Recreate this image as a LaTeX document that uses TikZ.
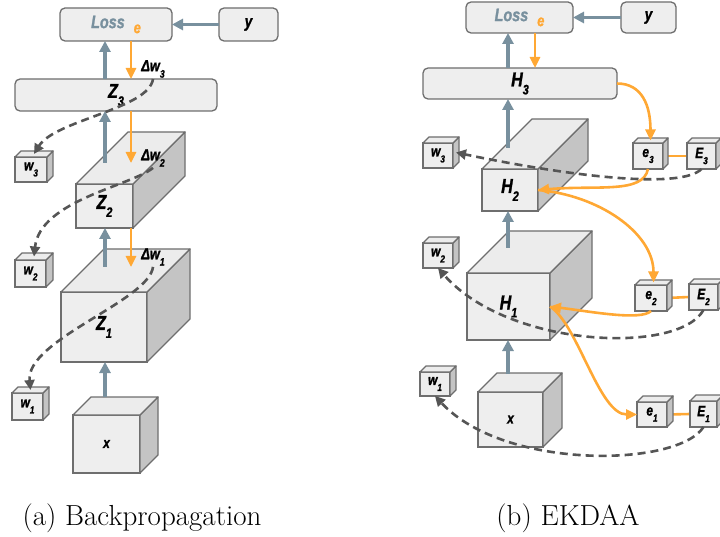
\documentclass[tikz,border=0pt]{standalone}
\usepackage{fontspec}
\newfontfamily\lblfont[FakeStretch=0.8,BoldItalicFeatures={FakeBold=1.3}]{Liberation Sans}
\usetikzlibrary{positioning,calc,arrows.meta,backgrounds}

\definecolor{fwdc}{RGB}{120,144,158}
\definecolor{errc}{RGB}{255,168,52}
\definecolor{dashc}{RGB}{85,85,85}
\definecolor{boxline}{RGB}{110,110,110}
\definecolor{boxfill}{RGB}{238,238,238}
\definecolor{sidefill}{RGB}{196,196,196}
\definecolor{topfill}{RGB}{236,236,236}

\newcommand{\bigtxt}{\fontsize{20}{20}\selectfont}
\newcommand{\smtxt}{\fontsize{15}{15}\selectfont}
\newcommand{\lsub}[1]{\raisebox{-0.4em}{\scalebox{0.68}{#1}}}

\tikzset{
  face/.style={draw=boxline, fill=boxfill, line width=1.3pt, outer sep=0pt,
    inner sep=0pt, font=\lblfont\bfseries\itshape},
  sideface/.style={draw=boxline, fill=sidefill, line width=1.3pt, line join=round},
  topface/.style={draw=boxline, fill=topfill, line width=1.3pt, line join=round},
  flatbox/.style={face, rounded corners=5pt},
  fwd/.style={draw=fwdc, line width=3.2pt, -{Triangle[length=11pt,width=11pt]}},
  err/.style={draw=errc, line width=2.6pt, -{Triangle[length=11pt,width=10pt]}},
  errline/.style={draw=errc, line width=2.6pt},
  dsh/.style={draw=dashc, line width=2.6pt, dash pattern=on 8pt off 5pt,
    -{Triangle[length=10pt,width=10pt]}},
  dlabel/.style={font=\lblfont\bfseries\itshape\fontsize{16}{16}\selectfont, inner sep=1pt},
  caption/.style={font=\fontsize{29}{34}\selectfont}
}

% name, left, top, width, height, depth, label
\newcommand{\cubebox}[7]{%
  \node[face, minimum width=#4, minimum height=#5] (#1) at ({#2+#4/2},{#3+#5/2}) {#7};
  \filldraw[sideface] (#1.north east) -- ++(#6,-#6) -- ++(0,#5) -- ++(-#6,#6) -- cycle;
  \filldraw[topface] (#1.north west) -- ++(#6,-#6) -- ++(#4,0) -- ++(-#6,#6) -- cycle;
  \coordinate (#1-top) at ($(#1.north)+(#6/2,-#6/2)$);
  \coordinate (#1-side) at ($(#1.east)+(#6/2,-#6/2)$);
}

\begin{document}
\begin{tikzpicture}[x=1pt,y=-1pt]
  \useasboundingbox (0,0) rectangle (720,537);
  \clip (0,0) rectangle (720,537);

  % (a) backpropagation
  \node[flatbox, minimum width=112, minimum height=33] (lossA) at (116,24.5)
    {\textcolor{fwdc}{\fontsize{18}{18}\selectfont Loss}\hspace{9pt}\raisebox{-5pt}{\textcolor{errc}{\fontsize{16}{16}\selectfont e}}};
  \node[flatbox, minimum width=59, minimum height=33] (yA) at (248.5,24.5) {\fontsize{17}{17}\selectfont y};
  \node[flatbox, minimum width=202, minimum height=32] (Z3) at (116,95) {\bigtxt Z\lsub{3}};
  \cubebox{Z2}{76}{184}{57}{44}{52}{\bigtxt Z\lsub{2}}
  \cubebox{Z1}{61}{292}{86}{70}{43}{\bigtxt Z\lsub{1}}
  \cubebox{xA}{73}{415}{67}{58}{18}{\smtxt x}
  \cubebox{w3A}{15}{157}{32}{25}{6}{\smtxt w\lsub{3}}
  \cubebox{w2A}{15}{260}{31}{27}{7}{\smtxt w\lsub{2}}
  \cubebox{w1A}{12}{393}{31}{27}{6}{\smtxt w\lsub{1}}
  \node[dlabel] (dw3) at (153,69) {Δw\lsub{3}};
  \node[dlabel] (dw2) at (153,158) {Δw\lsub{2}};
  \node[dlabel] (dw1) at (153,257) {Δw\lsub{1}};

  \coordinate (fa) at (105,0);
  \coordinate (ea) at (131,0);
  \draw[fwd] (yA.west) -- (lossA.east);
  \draw[fwd] (Z3.north -| fa) -- (lossA.south -| fa);
  \draw[err] (lossA.south -| ea) -- (Z3.north -| ea);
  \draw[fwd] ($(Z2.north -| fa)+(0,-21)$) -- (Z3.south -| fa);
  \draw[err] (Z3.south -| ea) -- ($(Z2.north -| ea)+(0,-21)$);
  \draw[fwd] ($(Z1.north -| fa)+(0,-25)$) -- (Z2.south -| fa);
  \draw[err] (Z2.south -| ea) -- ($(Z1.north -| ea)+(0,-25)$);
  \draw[fwd] ($(xA.north -| fa)+(0,-18)$) -- (Z1.south -| fa);

  \draw[dsh] (dw3.south) .. controls +(-4,30) and +(21,-34) .. (w3A-top);
  \draw[dsh] (dw2.south) .. controls +(-22,18) and +(6,-56) .. (w2A-top);
  \draw[dsh] (dw1.south) .. controls +(-4,34) and +(-5,-50) .. (w1A-top);

  \node[caption] (capA) at (142,518) {(a) Backpropagation};

  % (b) EKDAA
  \node[flatbox, minimum width=107, minimum height=31] (lossB) at (519.5,17.5)
    {\textcolor{fwdc}{\fontsize{18}{18}\selectfont Loss}\hspace{9pt}\raisebox{-5pt}{\textcolor{errc}{\fontsize{16}{16}\selectfont e}}};
  \node[flatbox, minimum width=55, minimum height=31] (yB) at (648.5,17.5) {\fontsize{17}{17}\selectfont y};
  \node[flatbox, minimum width=194, minimum height=31] (H3) at (520,83.5) {\bigtxt H\lsub{3}};
  \cubebox{H2}{482}{169}{56}{42}{50}{\bigtxt H\lsub{2}}
  \cubebox{H1}{467}{273}{83}{67}{42}{\bigtxt H\lsub{1}}
  \cubebox{xB}{478}{392}{65}{55}{19}{\smtxt x}
  \cubebox{w3B}{423}{143}{30}{25}{6}{\smtxt w\lsub{3}}
  \cubebox{w2B}{423}{243}{30}{25}{6}{\smtxt w\lsub{2}}
  \cubebox{w1B}{420}{372}{30}{24}{6}{\smtxt w\lsub{1}}
  \cubebox{e3}{633}{143}{30}{26}{5}{\smtxt e\lsub{3}}
  \cubebox{E3}{687}{143}{29}{26}{5}{\smtxt E\lsub{3}}
  \cubebox{e2}{635}{285}{32}{26}{5}{\smtxt e\lsub{2}}
  \cubebox{E2}{689}{284}{29}{26}{5}{\smtxt E\lsub{2}}
  \cubebox{e1}{637}{402}{30}{25}{6}{\smtxt e\lsub{1}}
  \cubebox{E1}{690}{401}{27}{26}{6}{\smtxt E\lsub{1}}

  \begin{pgfonlayer}{background}
    \draw[errline] (e3.east) -- (E3.west);
    \draw[errline] (e2.east) -- (E2.west);
    \draw[errline] (e1.east) -- (E1.west);
  \end{pgfonlayer}

  \coordinate (fb) at (508,0);
  \coordinate (eb) at (535,0);
  \draw[fwd] (yB.west) -- (lossB.east);
  \draw[fwd] (H3.north -| fb) -- (lossB.south -| fb);
  \draw[err] (lossB.south -| eb) -- (H3.north -| eb);
  \draw[fwd] ($(H2.north -| fb)+(0,-21)$) -- (H3.south -| fb);
  \draw[fwd] ($(H1.north -| fb)+(0,-25)$) -- (H2.south -| fb);
  \draw[fwd] ($(xB.north -| fb)+(0,-18)$) -- (H1.south -| fb);

  \draw[err] (H3.east) .. controls +(25,0) and +(0,-35) .. (e3-top);
  \draw[err] (e3.south) .. controls +(-5,25) and +(60,-5) .. (H2.east);
  \draw[err] (H2.east) .. controls +(60,5) and +(0,-50) .. (e2-top);
  \draw[err] (e2.south) .. controls +(-10,10) and +(40,5) .. (H1.east);
  \draw[err] (H1.east) .. controls +(28,18) and +(-38,0) .. (e1.west);

  \draw[dsh] (E3.south) .. controls +(-20,20) and +(120,25) .. (w3B-side);
  \draw[dsh] (E2.south) .. controls +(-25,45) and +(70,80) .. (w2B.south);
  \draw[dsh] (E1.south) .. controls +(-25,40) and +(70,75) .. (w1B.south);

  \node[caption] (capB) at (568,518) {(b) EKDAA};
\end{tikzpicture}
\end{document}
